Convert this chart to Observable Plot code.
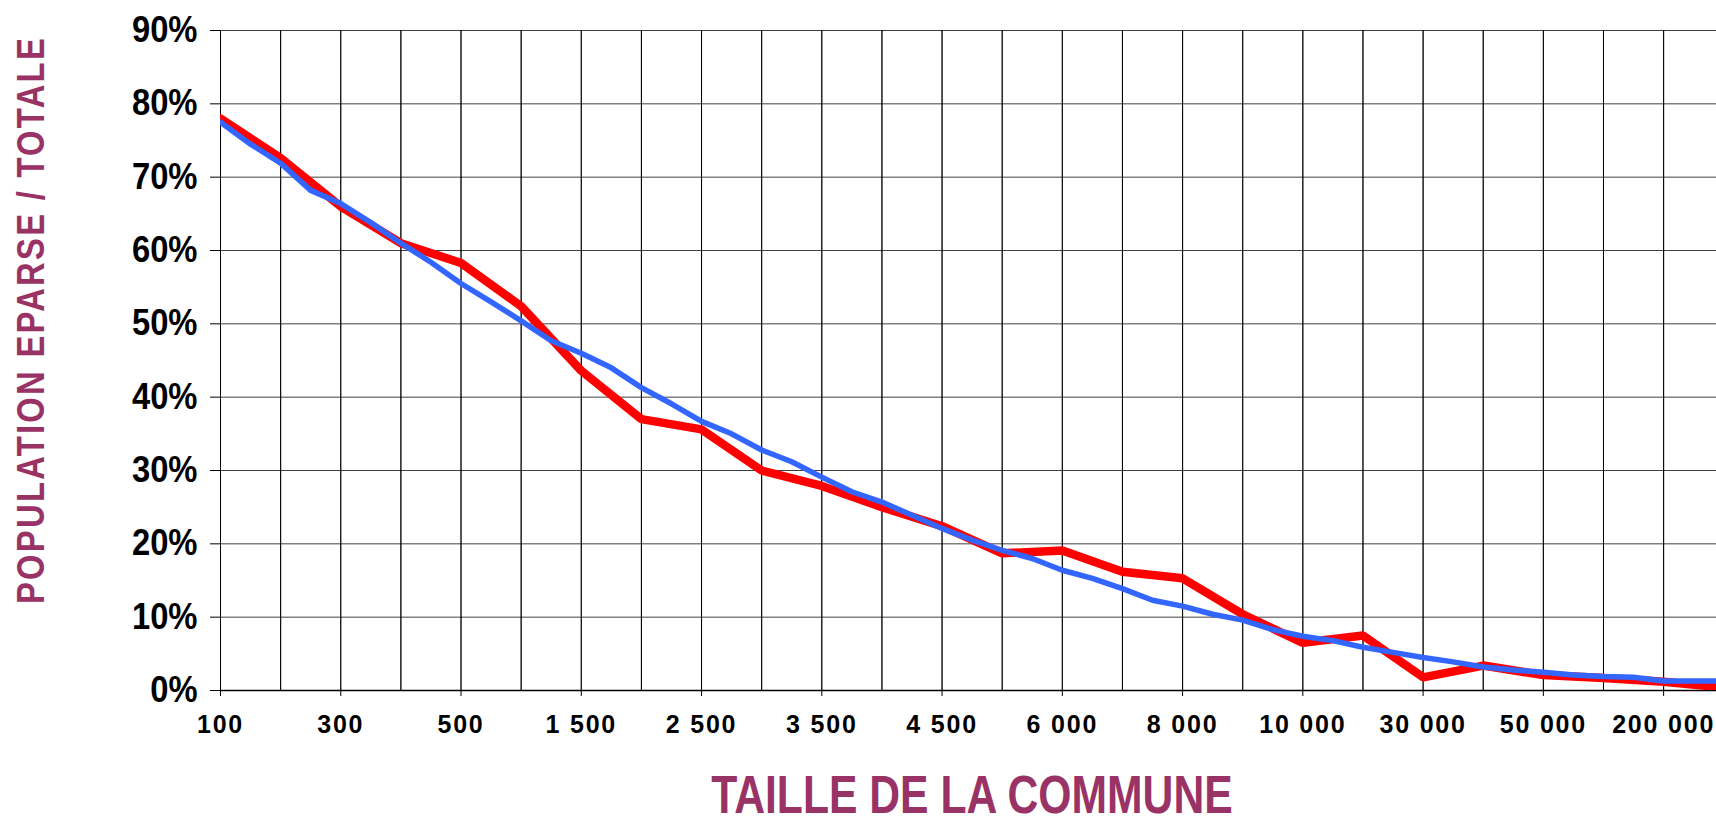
<!DOCTYPE html>
<html>
<head>
<meta charset="utf-8">
<script src="https://cdn.jsdelivr.net/npm/d3@7"></script>
<script src="https://cdn.jsdelivr.net/npm/@observablehq/plot@0.6"></script>
<style>
  html, body { margin: 0; padding: 0; background: #fff; overflow: hidden; }
  #wrap { position: relative; width: 1716px; height: 816px; }
  #chart svg { display: block; }
  g[aria-label="x-axis tick label"] text { letter-spacing: 1.8px; }
  .ytitle, .xtitle {
    position: absolute; white-space: nowrap;
    font-family: "Liberation Sans", Arial, sans-serif; font-weight: bold; color: #993366;
  }
  .ytitle {
    left: 30px; top: 320px; font-size: 39px; line-height: 1; letter-spacing: 2.7px;
    transform: translate(-50%, -50%) rotate(-90deg) scale(0.84, 1);
  }
  .xtitle {
    left: 972px; top: 774px; font-size: 54px; line-height: 40px;
    transform: translateX(-50%) scaleX(0.79);
  }
</style>
</head>
<body>
<div id="wrap">
  <div id="chart"></div>
  <div class="ytitle">POPULATION EPARSE / TOTALE</div>
  <div class="xtitle">TAILLE DE LA COMMUNE</div>
</div>
<script>
// Categories (commune size classes)
const categories = ["100","200","300","400","500","1 000","1 500","2 000","2 500","3 000","3 500","4 000","4 500","5 000","6 000","7 000","8 000","9 000","10 000","20 000","30 000","40 000","50 000","100 000","200 000","> 200 000"];
// Labelled categories on the x axis (every other one)
const xTickLabels = ["100","300","500","1 500","2 500","3 500","4 500","6 000","8 000","10 000","30 000","50 000","200 000"];
// Red series: one value per category (%)
const redValues = [78.0,72.6,66.0,61.0,58.3,52.4,43.6,37.0,35.6,30.0,27.9,25.0,22.4,18.7,19.1,16.2,15.3,10.4,6.5,7.5,1.8,3.4,2.1,1.7,1.2,0.4];
// Blue series: two values per category (at the category and halfway to the next) (%)
const blueValues = [77.5,74.5,71.9,68.2,66.4,63.8,61.0,58.4,55.5,53.0,50.4,47.7,46.0,44.0,41.3,39.1,36.7,35.0,32.8,31.2,29.1,27.1,25.7,23.9,22.1,20.5,19.1,18.0,16.4,15.3,13.9,12.3,11.5,10.4,9.6,8.3,7.4,6.8,5.9,5.2,4.5,3.9,3.2,2.8,2.5,2.1,1.9,1.8,1.3,1.3,1.3];
// Y ticks (%)
const yTicks = [0,10,20,30,40,50,60,70,80,90];

const red = categories.map((c, i) => ({i, v: redValues[i]}));
const blue = blueValues.map((v, j) => ({i: j / 2, v}));
const xTicks = xTickLabels.map(l => categories.indexOf(l));
const xGrid = categories.map((c, i) => i);

const width = 1716, marginLeft = 220, step = 60.13;
const xMax = (width - marginLeft) / step;

const plot = Plot.plot({
  width, height: 816,
  marginLeft, marginRight: 0, marginTop: 30, marginBottom: 126,
  style: {fontFamily: "'Liberation Sans', Arial, sans-serif", fontWeight: "bold", color: "#000", background: "#fff", overflow: "hidden"},
  x: {type: "linear", domain: [0, xMax]},
  y: {domain: [0, 90]},
  marks: [
    Plot.gridX(xGrid, {stroke: "#000", strokeOpacity: 0.7, strokeWidth: 1}),
    Plot.gridY(yTicks, {stroke: "#000", strokeOpacity: 0.75, strokeWidth: 1}),
    Plot.axisY(yTicks, {tickSize: 10, tickPadding: 13, fontSize: 36, tickFormat: d => d + "%", label: null, stroke: "#000"}),
    Plot.axisX(xTicks, {tickSize: 6, tickPadding: 19, fontSize: 25, tickFormat: i => categories[i], label: null}),
    Plot.tickX(xGrid, {y1: 0, y2: 0.8, stroke: "#000", strokeWidth: 1}),
    Plot.ruleY([0], {stroke: "#000", strokeWidth: 1.5}),
    Plot.line(red, {x: "i", y: "v", stroke: "#ff0000", strokeWidth: 8.5, strokeLinejoin: "miter", clip: true}),
    Plot.line(blue, {x: "i", y: "v", stroke: "#3366ff", strokeWidth: 5.5, strokeLinejoin: "round", clip: true})
  ]
});
document.getElementById("chart").appendChild(plot);

// slightly condensed y tick labels
d3.select(plot).selectAll('g[aria-label="y-axis tick label"] text').each(function () {
  const L = this.getComputedTextLength();
  if (L > 0) {
    this.setAttribute("textLength", (L * 0.91).toFixed(1));
    this.setAttribute("lengthAdjust", "spacingAndGlyphs");
  }
});
</script>
</body>
</html>
